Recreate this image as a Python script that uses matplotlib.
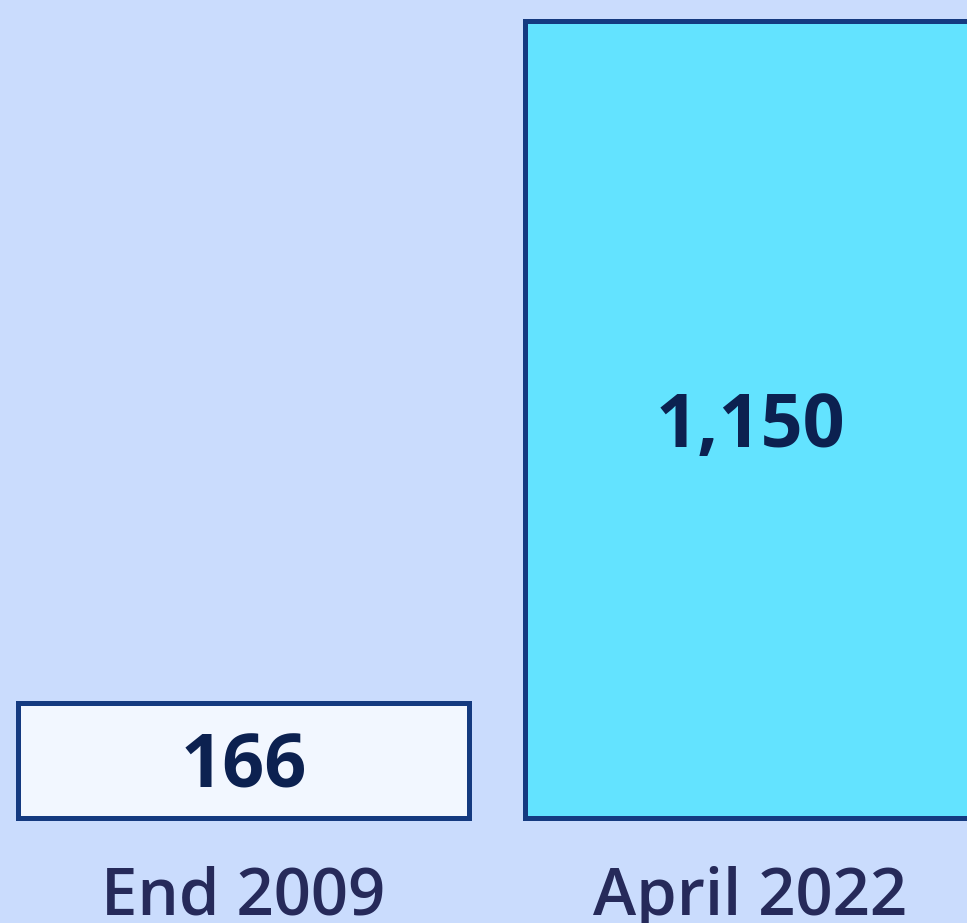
import matplotlib.pyplot as plt

categories = ['End 2009', 'April 2022']
values = [166, 1150]
value_labels = ['166', '1,150']
face_colors = ['#f2f7ff', '#63e3ff']

bg = '#cadcfd'
edge = '#143a80'

fig = plt.figure(figsize=(9.67, 9.23), dpi=100)
fig.patch.set_facecolor(bg)
ax = fig.add_axes([0, 0, 1, 1])
ax.set_facecolor(bg)

x = [0, 1]
bars = ax.bar(x, values, width=0.888, color=face_colors, edgecolor=edge, linewidth=3.6)

# value labels sit in the middle of each bar
for xi, v, lab in zip(x, values, value_labels):
    ax.text(xi, v / 2 - 12, lab, ha='center', va='center', fontsize=53,
            fontweight='bold', color='#0c2150', family='Open Sans')

for xi, cat in zip(x, categories):
    ax.text(xi, -117, cat, ha='center', va='center', fontsize=47,
            fontweight='semibold', color='#262a5a', family='Open Sans')

ax.set_xlim(-0.480, 1.427)
ax.set_ylim(-152.4, 1181)
ax.axis('off')

fig.savefig('out.png', dpi=100, facecolor=bg)
